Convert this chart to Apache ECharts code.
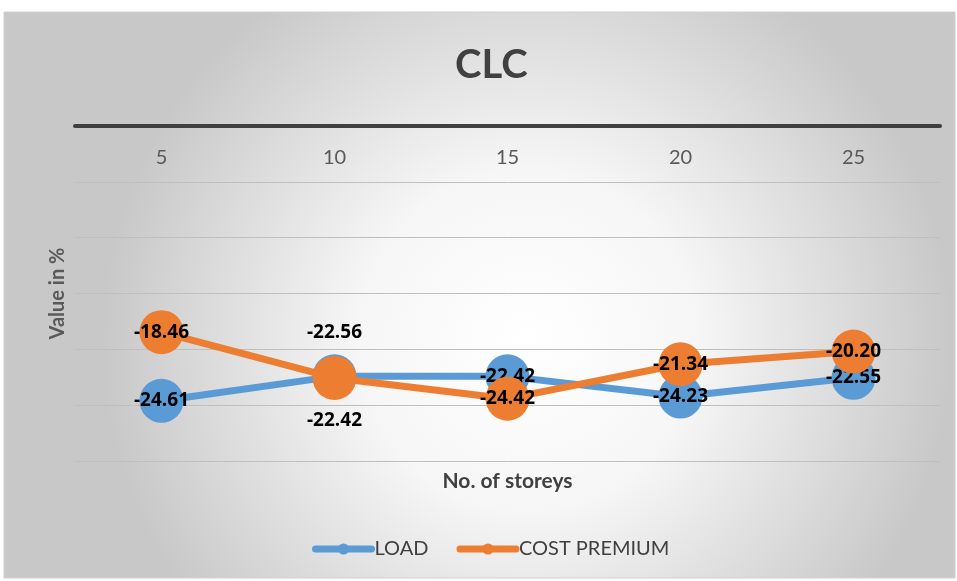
<!DOCTYPE html>
<html>
<head>
<meta charset="utf-8">
<script src="https://cdn.jsdelivr.net/npm/echarts@6/dist/echarts.min.js"></script>
<style>
  html, body { margin: 0; padding: 0; background: #ffffff; }
  #chart { width: 957px; height: 581px; }
</style>
</head>
<body>
<div id="chart"></div>
<script>
// Number of storeys on the category axis
const storeys = ['5', '10', '15', '20', '25'];
// Change in value (%) per storey count
const loadValues = [-24.61, -22.42, -22.42, -24.23, -22.55];
const costPremiumValues = [-18.46, -22.56, -24.42, -21.34, -20.20];
// Where each point's value label sits (centre unless the two points overlap)
const loadLabelPos = ['inside', 'bottom', 'inside', 'inside', 'inside'];
const costLabelPos = ['inside', 'top', 'inside', 'inside', 'inside'];

const FONT = 'Lato, "Open Sans", sans-serif';
const LABEL_GAP = { inside: 0, top: 14, bottom: 13 };

const labelStyle = {
  show: true,
  color: '#000000',
  fontWeight: 700,
  fontSize: 19,
  fontFamily: '"Open Sans", Lato, sans-serif',
  formatter: p => p.value.toFixed(2)
};

function withLabels(values, positions) {
  return values.map((v, i) => ({
    value: v,
    label: Object.assign({}, labelStyle, {
      position: positions[i],
      distance: LABEL_GAP[positions[i]]
    })
  }));
}

const chart = echarts.init(document.getElementById('chart'), null, { renderer: 'canvas' });

chart.setOption({
  backgroundColor: '#ffffff',
  animation: false,
  graphic: [{
    type: 'rect',
    z: -10,
    shape: { x: 4, y: 12, width: 951, height: 566 },
    style: {
      fill: new echarts.graphic.RadialGradient(0.55, 0.58, 0.75, [
        { offset: 0, color: '#ffffff' },
        { offset: 0.4, color: '#f6f6f6' },
        { offset: 1, color: '#c8c8c8' }
      ]),
      stroke: '#d0d0d0',
      lineWidth: 1
    }
  }],
  title: {
    text: 'CLC',
    left: 450,
    top: 40,
    textStyle: { fontSize: 40, fontWeight: 'bold', color: '#404040', fontFamily: FONT }
  },
  legend: {
    bottom: 17,
    left: 307,
    itemWidth: 56,
    itemHeight: 14,
    itemGap: 28,
    lineStyle: { width: 7, cap: 'round' },
    textStyle: { fontSize: 20, color: '#404040', fontFamily: FONT, padding: [0, 0, 0, -2] },
    data: ['LOAD', 'COST PREMIUM']
  },
  grid: { left: 75, right: 17, top: 126, bottom: 120 },
  xAxis: [{
    type: 'category',
    data: storeys,
    position: 'top',
    boundaryGap: true,
    axisLine: { show: true, lineStyle: { color: '#404040', width: 4 } },
    axisTick: { show: false },
    axisLabel: { inside: true, margin: 22, fontSize: 20, color: '#595959', fontFamily: FONT }
  }, {
    type: 'category',
    data: storeys,
    position: 'bottom',
    axisLine: { show: false },
    axisTick: { show: false },
    axisLabel: { show: false },
    name: 'No. of storeys',
    nameLocation: 'middle',
    nameGap: 10,
    nameTextStyle: { fontSize: 21, fontWeight: 700, color: '#404040', fontFamily: FONT }
  }],
  yAxis: {
    type: 'value',
    min: -30,
    max: 0,
    interval: 5,
    axisLine: { show: false },
    axisTick: { show: false },
    axisLabel: { show: false },
    splitLine: { show: true, lineStyle: { color: '#bfbfbf', width: 1 } },
    name: 'Value in %',
    nameLocation: 'middle',
    nameRotate: 90,
    nameGap: 7,
    nameTextStyle: { fontSize: 20, fontWeight: 700, color: '#595959', fontFamily: FONT }
  },
  series: [{
    name: 'LOAD',
    type: 'line',
    data: withLabels(loadValues, loadLabelPos),
    symbol: 'circle',
    symbolSize: 44,
    lineStyle: { color: '#5b9bd5', width: 7 },
    itemStyle: { color: '#5b9bd5' },
    label: labelStyle,
    z: 2
  }, {
    name: 'COST PREMIUM',
    type: 'line',
    data: withLabels(costPremiumValues, costLabelPos),
    symbol: 'circle',
    symbolSize: 44,
    lineStyle: { color: '#ed7d31', width: 7 },
    itemStyle: { color: '#ed7d31' },
    label: labelStyle,
    z: 3
  }]
});
</script>
</body>
</html>
